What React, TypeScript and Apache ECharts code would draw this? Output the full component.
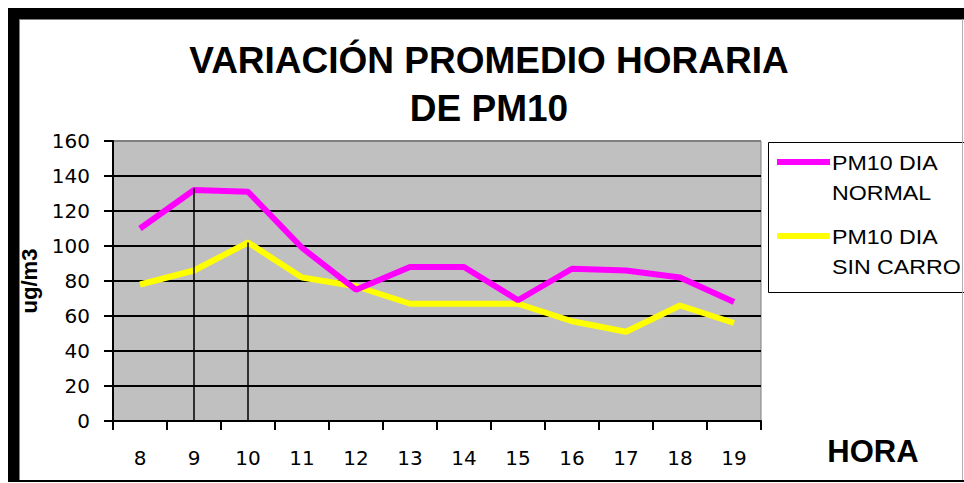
import React, { useEffect, useRef } from "react";
import * as echarts from "echarts";

const hours = ["8", "9", "10", "11", "12", "13", "14", "15", "16", "17", "18", "19"];
const pm10Normal = [110, 132, 131, 99, 75, 88, 88, 69, 87, 86, 82, 68];
const pm10SinCarro = [78, 86, 102, 82, 77, 67, 67, 67, 57, 51, 66, 56];
const yTicks = { min: 0, max: 160, interval: 20 };
const titleText = "VARIACIÓN PROMEDIO HORARIA\nDE PM10";
const xAxisName = "HORA";
const yAxisName = "ug/m3";
const legendNames = ["PM10 DIA\nNORMAL", "PM10 DIA\nSIN CARRO"];
const seriesColors = ["#ff00ff", "#ffff00"];

export default function App() {
  const ref = useRef<HTMLDivElement>(null);
  useEffect(() => {
    if (!ref.current) return;
    const chart = echarts.init(ref.current, null, { renderer: "svg" });
    const splitColors = ["#000", "#000", "#000", "#000", "#000", "#000", "#000", "#000", "#808080"];
    chart.setOption({
      animation: false,
      backgroundColor: "#ffffff",
      title: {
        text: titleText,
        left: 489,
        top: 36,
        padding: 0,
        textAlign: "center",
        textStyle: {
          fontFamily: "Liberation Sans, Arial, sans-serif",
          fontWeight: "bold",
          fontSize: 37,
          lineHeight: 48,
          color: "#000",
        },
      },
      grid: {
        left: 113,
        top: 141,
        right: 203,
        bottom: 62,
        show: true,
        backgroundColor: "#c0c0c0",
        borderColor: "#808080",
        borderWidth: 1,
      },
      xAxis: {
        type: "category",
        data: hours,
        boundaryGap: true,
        axisLine: { lineStyle: { color: "#000", width: 2 } },
        axisTick: { show: true, length: 9, lineStyle: { color: "#000", width: 2 } },
        axisLabel: {
          margin: 27,
          fontFamily: "DejaVu Sans, sans-serif",
          fontSize: 20,
          color: "#000",
        },
        splitLine: { show: false },
      },
      yAxis: {
        type: "value",
        min: yTicks.min,
        max: yTicks.max,
        interval: yTicks.interval,
        name: yAxisName,
        nameLocation: "middle",
        nameRotate: 90,
        nameGap: 64,
        nameTextStyle: {
          fontFamily: "Liberation Sans, Arial, sans-serif",
          fontWeight: "bold",
          fontSize: 22,
          color: "#000",
        },
        axisLine: { show: true, lineStyle: { color: "#000", width: 2 } },
        axisTick: { show: true, length: 9, lineStyle: { color: "#000", width: 2 } },
        axisLabel: {
          margin: 23,
          fontFamily: "DejaVu Sans, sans-serif",
          fontSize: 20,
          color: "#000",
        },
        splitLine: { show: true, lineStyle: { color: splitColors, width: 2 } },
      },
      series: [
        {
          name: legendNames[0],
          type: "line",
          data: pm10Normal,
          symbol: "none",
          lineStyle: { color: seriesColors[0], width: 6 },
          itemStyle: { color: seriesColors[0] },
          z: 3,
          markLine: {
            silent: true,
            symbol: "none",
            label: { show: false },
            lineStyle: { color: "#000", width: 1.5, type: "solid" },
            data: [[{ coord: ["9", 133] }, { coord: ["9", 0] }]],
          },
        },
        {
          name: legendNames[1],
          type: "line",
          data: pm10SinCarro,
          symbol: "none",
          lineStyle: { color: seriesColors[1], width: 6 },
          itemStyle: { color: seriesColors[1] },
          z: 2,
          markLine: {
            silent: true,
            symbol: "none",
            label: { show: false },
            lineStyle: { color: "#000", width: 1.5, type: "solid" },
            data: [[{ coord: ["10", 102] }, { coord: ["10", 0] }]],
          },
        },
      ],
      graphic: [
        { type: "rect", shape: { x: 8, y: 8, width: 956, height: 11 }, style: { fill: "#000" }, z: 10 },
        { type: "rect", shape: { x: 8, y: 8, width: 11, height: 474 }, style: { fill: "#000" }, z: 10 },
        { type: "line", shape: { x1: 19, y1: 19.5, x2: 964, y2: 19.5 }, style: { stroke: "#808080", lineWidth: 1 }, z: 10 },
        { type: "line", shape: { x1: 19.5, y1: 19, x2: 19.5, y2: 481 }, style: { stroke: "#808080", lineWidth: 1 }, z: 10 },
        { type: "line", shape: { x1: 962.5, y1: 19, x2: 962.5, y2: 481 }, style: { stroke: "#b0b0b0", lineWidth: 1 }, z: 10 },
        { type: "line", shape: { x1: 19, y1: 481, x2: 964, y2: 481 }, style: { stroke: "#000", lineWidth: 2 }, z: 10 },
        {
          type: "text",
          x: 873,
          y: 451,
          style: {
            text: xAxisName,
            fontFamily: "Liberation Sans, Arial, sans-serif",
            fontWeight: "bold",
            fontSize: 31,
            fill: "#000",
            align: "center",
            verticalAlign: "middle",
          },
          z: 6,
        },
        {
          type: "rect",
          shape: { x: 768.5, y: 142.5, width: 210, height: 150 },
          style: { fill: "#fff", stroke: "#000", lineWidth: 1 },
          z: 5,
        },
        {
          type: "line",
          shape: { x1: 777, y1: 162, x2: 830, y2: 162 },
          style: { stroke: seriesColors[0], lineWidth: 6 },
          z: 6,
        },
        {
          type: "text",
          x: 832,
          y: 148,
          scaleX: 1.16,
          style: {
            text: legendNames[0],
            fontFamily: "Liberation Sans, Arial, sans-serif",
            fontSize: 20,
            lineHeight: 30,
            fill: "#000",
            verticalAlign: "top",
            align: "left",
          },
          z: 6,
        },
        {
          type: "line",
          shape: { x1: 777, y1: 236, x2: 830, y2: 236 },
          style: { stroke: seriesColors[1], lineWidth: 6 },
          z: 6,
        },
        {
          type: "text",
          x: 832,
          y: 222,
          scaleX: 1.16,
          style: {
            text: legendNames[1],
            fontFamily: "Liberation Sans, Arial, sans-serif",
            fontSize: 20,
            lineHeight: 30,
            fill: "#000",
            verticalAlign: "top",
            align: "left",
          },
          z: 6,
        },
      ],
    });
    return () => chart.dispose();
  }, []);
  return (
    <div
      ref={ref}
      style={{ position: "fixed", left: 0, top: 0, width: 964, height: 483 }}
    />
  );
}
